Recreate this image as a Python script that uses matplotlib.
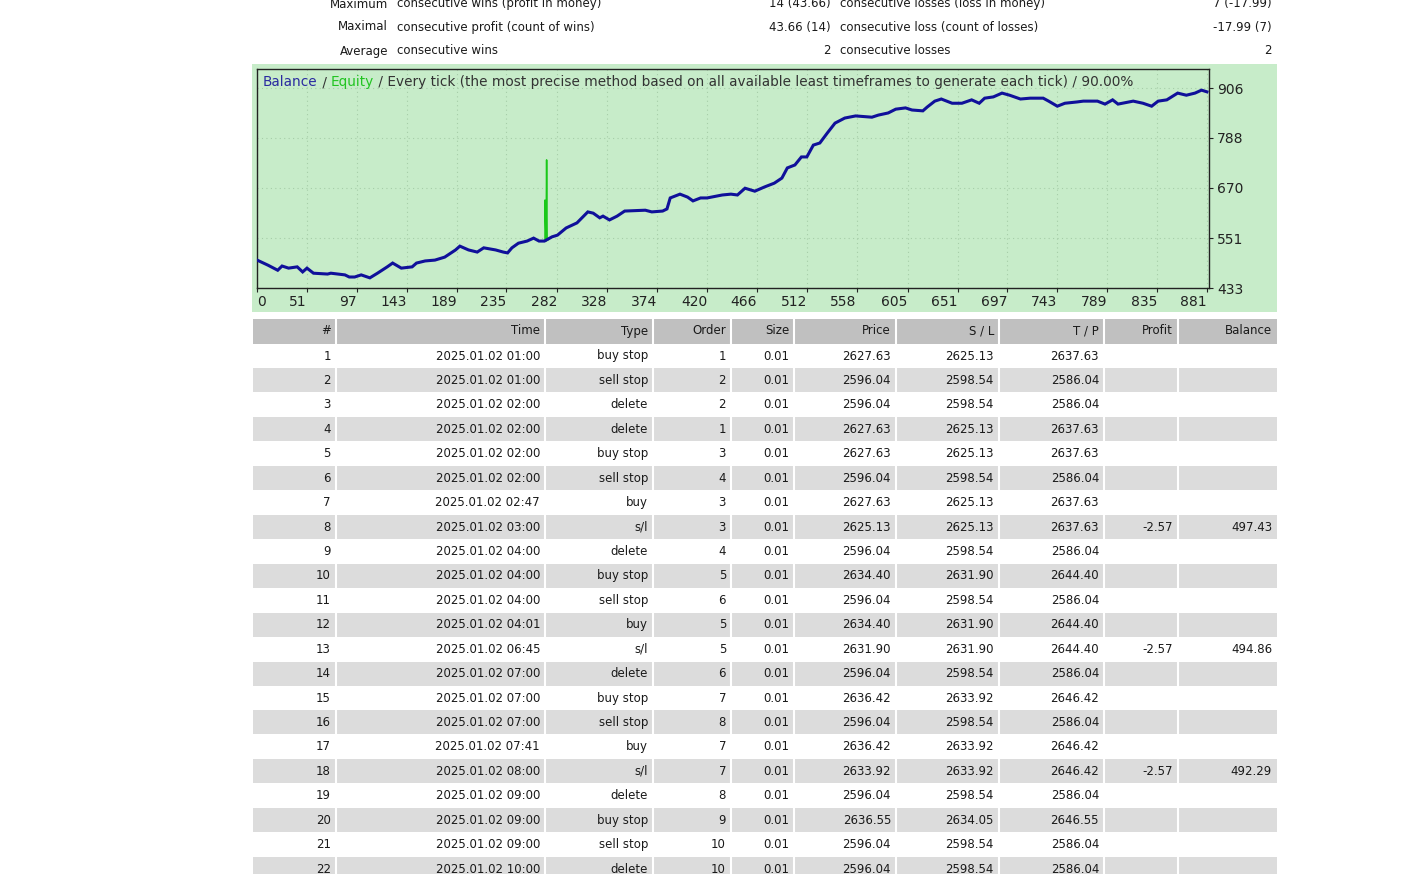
import matplotlib
matplotlib.use("Agg")
import matplotlib.pyplot as plt
from matplotlib.patches import Rectangle

plt.rcParams['font.family'] = ['DejaVu Sans']

W, H = 1403, 874

# summary lines above the chart
sum_labels = ["Maximum", "Maximal", "Average"]
sum_win_text = ["consecutive wins (profit in money)", "consecutive profit (count of wins)", "consecutive wins"]
sum_win_vals = ["14 (43.66)", "43.66 (14)", "2"]
sum_loss_text = ["consecutive losses (loss in money)", "consecutive loss (count of losses)", "consecutive losses"]
sum_loss_vals = ["7 (-17.99)", "-17.99 (7)", "2"]

# balance curve (trade number, balance)
bal_x = [5, 15, 24, 28, 34, 42, 47, 51, 57, 70, 73, 86, 90, 95, 101, 109, 116, 125, 130,
         138, 148, 152, 160, 169, 178, 188, 192, 200, 208, 214, 225, 232, 236, 240, 246,
         254, 260, 265, 270, 277, 282, 290, 300, 310, 315, 321, 324, 330, 337, 344, 363,
         369, 379, 383, 386, 395, 402, 407, 414, 420, 434, 442, 448, 455, 464, 473, 482,
         489, 494, 501, 507, 512, 518, 524, 531, 538, 547, 557, 572, 578, 587, 594, 603,
         609, 619, 623, 630, 636, 646, 655, 664, 671, 676, 684, 692, 699, 709, 718, 730,
         735, 743, 750, 761, 767, 780, 787, 794, 799, 813, 822, 830, 836, 844, 854, 862,
         870, 876, 881]
bal_y = [499, 487, 475, 485, 480, 483, 471, 480, 468, 466, 468, 464, 459, 459, 464, 457,
         468, 483, 492, 480, 483, 492, 497, 499, 506, 523, 532, 523, 518, 528, 523, 518,
         516, 528, 539, 544, 551, 544, 544, 554, 558, 575, 587, 613, 610, 599, 603, 594,
         603, 615, 617, 613, 615, 620, 646, 655, 648, 639, 646, 646, 653, 655, 653, 669,
         662, 672, 681, 693, 717, 724, 743, 743, 771, 776, 800, 823, 835, 840, 837, 842,
         847, 856, 859, 854, 852, 861, 875, 880, 870, 870, 878, 870, 882, 885, 894, 889,
         880, 882, 882, 875, 863, 870, 873, 875, 875, 868, 878, 868, 875, 870, 863, 875,
         878, 894, 889, 894, 901, 897]

# equity spike around trade 271
eq_x = [268, 270.5, 270.5, 271.5, 272, 272.5, 274]
eq_y = [544, 544, 641, 544, 736, 546, 548]

x_ticks = [0, 51, 97, 143, 189, 235, 282, 328, 374, 420, 466, 512, 558, 605, 651, 697,
           743, 789, 835, 881]
y_ticks = [433, 551, 670, 788, 906]

# trade table
headers = ["#", "Time", "Type", "Order", "Size", "Price", "S / L", "T / P", "Profit", "Balance"]
nums = [str(i) for i in range(1, 23)]
times = ["2025.01.02 01:00", "2025.01.02 01:00", "2025.01.02 02:00", "2025.01.02 02:00",
         "2025.01.02 02:00", "2025.01.02 02:00", "2025.01.02 02:47", "2025.01.02 03:00",
         "2025.01.02 04:00", "2025.01.02 04:00", "2025.01.02 04:00", "2025.01.02 04:01",
         "2025.01.02 06:45", "2025.01.02 07:00", "2025.01.02 07:00", "2025.01.02 07:00",
         "2025.01.02 07:41", "2025.01.02 08:00", "2025.01.02 09:00", "2025.01.02 09:00",
         "2025.01.02 09:00", "2025.01.02 10:00"]
types = ["buy stop", "sell stop", "delete", "delete", "buy stop", "sell stop", "buy", "s/l",
         "delete", "buy stop", "sell stop", "buy", "s/l", "delete", "buy stop", "sell stop",
         "buy", "s/l", "delete", "buy stop", "sell stop", "delete"]
orders = ["1", "2", "2", "1", "3", "4", "3", "3", "4", "5", "6", "5", "5", "6", "7", "8",
          "7", "7", "8", "9", "10", "10"]
sizes = ["0.01"] * 22
prices = ["2627.63", "2596.04", "2596.04", "2627.63", "2627.63", "2596.04", "2627.63",
          "2625.13", "2596.04", "2634.40", "2596.04", "2634.40", "2631.90", "2596.04",
          "2636.42", "2596.04", "2636.42", "2633.92", "2596.04", "2636.55", "2596.04",
          "2596.04"]
sls = ["2625.13", "2598.54", "2598.54", "2625.13", "2625.13", "2598.54", "2625.13",
       "2625.13", "2598.54", "2631.90", "2598.54", "2631.90", "2631.90", "2598.54",
       "2633.92", "2598.54", "2633.92", "2633.92", "2598.54", "2634.05", "2598.54",
       "2598.54"]
tps = ["2637.63", "2586.04", "2586.04", "2637.63", "2637.63", "2586.04", "2637.63",
       "2637.63", "2586.04", "2644.40", "2586.04", "2644.40", "2644.40", "2586.04",
       "2646.42", "2586.04", "2646.42", "2646.42", "2586.04", "2646.55", "2586.04",
       "2586.04"]
profits = [""] * 7 + ["-2.57"] + [""] * 4 + ["-2.57"] + [""] * 4 + ["-2.57"] + [""] * 4
balances = [""] * 7 + ["497.43"] + [""] * 4 + ["494.86"] + [""] * 4 + ["492.29"] + [""] * 4

fig = plt.figure(figsize=(W / 100, H / 100), dpi=100)
fig.patch.set_facecolor("white")

# full-figure pixel canvas for the report parts
bg = fig.add_axes([0, 0, 1, 1])
bg.set_xlim(0, W)
bg.set_ylim(H, 0)
bg.axis("off")

txt = "#1a1a1a"
fs = 8.5

# summary block (first line is cut by the top edge, like the screenshot)
for i, yy in enumerate([4, 27, 51]):
    bg.text(388, yy, sum_labels[i], ha="right", va="center", fontsize=fs, color=txt)
    bg.text(397, yy, sum_win_text[i], ha="left", va="center", fontsize=fs, color=txt)
    bg.text(831, yy, sum_win_vals[i], ha="right", va="center", fontsize=fs, color=txt)
    bg.text(840, yy, sum_loss_text[i], ha="left", va="center", fontsize=fs, color=txt)
    bg.text(1272, yy, sum_loss_vals[i], ha="right", va="center", fontsize=fs, color=txt)

# green chart panel
green = "#C7ECC9"
bg.add_patch(Rectangle((252, 64), 1025, 248, facecolor=green, edgecolor="none"))

# table
col_edges = [253, 336, 545, 653, 731, 794, 896, 999, 1104, 1178, 1277]
bg.add_patch(Rectangle((253, 319), 1024, 24.5, facecolor="#C0C0C0", edgecolor="none"))
row_h = 24.43
row0 = 356
columns = [nums, times, types, orders, sizes, prices, sls, tps, profits, balances]
for r in range(22):
    yc = row0 + r * row_h
    if r % 2 == 1:
        bg.add_patch(Rectangle((253, yc - 12), 1024, 24, facecolor="#DCDCDC", edgecolor="none"))
    for c, col in enumerate(columns):
        bg.text(col_edges[c + 1] - 5, yc, col[r], ha="right", va="center",
                fontsize=fs, color=txt)
for c, h in enumerate(headers):
    bg.text(col_edges[c + 1] - 5, 331, h, ha="right", va="center", fontsize=fs, color=txt)
# white column separators
for xe in col_edges[1:-1]:
    bg.plot([xe - 0.5, xe - 0.5], [319, H], color="white", lw=1.5)

# chart axes
xmin, xmax = 4.9, 882.9
ax = fig.add_axes([257 / W, 1 - 288 / H, 952 / W, 219 / H])
ax.set_facecolor(green)
ax.plot(eq_x, eq_y, color="#19C819", lw=1.1, zorder=2)
ax.plot(bal_x, bal_y, color="#10109A", lw=2.2, zorder=3, solid_joinstyle="miter")
ax.set_xlim(xmin, xmax)
ax.set_ylim(433, 951)
ax.yaxis.tick_right()
ax.set_yticks(y_ticks)
ax.set_yticklabels([str(v) for v in y_ticks])
ax.set_xticks([max(v, xmin) for v in x_ticks])
ax.set_xticklabels([str(v) for v in x_ticks])
for i, lab in enumerate(ax.get_xticklabels()):
    lab.set_ha("left" if i == 0 else "right")
ax.tick_params(axis="both", direction="out", length=3, width=0.8, colors="#222222",
               labelsize=10, pad=2)
ax.tick_params(axis="y", pad=3)
ax.grid(True, color="#A6CDA8", linestyle=(0, (1, 3)), lw=0.8)
for s in ax.spines.values():
    s.set_color("#222222")
    s.set_linewidth(1)

# title pieces inside the chart, drawn on top of the chart axes
fig.canvas.draw()
rend = fig.canvas.get_renderer()
pieces = [("Balance", "#2A2AA0"), (" / ", "#333333"), ("Equity", "#22C422"),
          (" / Every tick (the most precise method based on all available least timeframes"
           " to generate each tick) / 90.00%", "#333333")]
xpos = 263
for s, col in pieces:
    t = fig.text(xpos / W, 1 - 86 / H, s, ha="left", va="baseline", fontsize=9.8, color=col)
    xpos = t.get_window_extent(rend).x1

fig.savefig("out.png", dpi=100)
